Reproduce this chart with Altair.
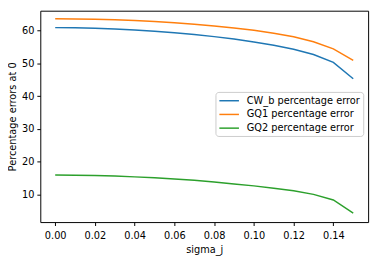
import altair as alt
import pandas as pd

sigma_j = [0.00, 0.01, 0.02, 0.03, 0.04, 0.05, 0.06, 0.07, 0.08, 0.09, 0.10, 0.11, 0.12, 0.13, 0.14, 0.15]
cw_b = [60.9, 60.85, 60.7, 60.5, 60.2, 59.8, 59.35, 58.8, 58.15, 57.4, 56.5, 55.5, 54.3, 52.7, 50.3, 45.3]
gq1 = [63.6, 63.55, 63.45, 63.3, 63.05, 62.75, 62.4, 61.95, 61.4, 60.8, 60.1, 59.2, 58.1, 56.6, 54.4, 50.9]
gq2 = [15.9, 15.85, 15.75, 15.6, 15.35, 15.05, 14.7, 14.3, 13.8, 13.2, 12.6, 11.9, 11.1, 10.0, 8.3, 4.3]

series_names = ["CW_b percentage error", "GQ1 percentage error", "GQ2 percentage error"]
colors = ["#1f77b4", "#ff7f0e", "#2ca02c"]
x_ticks = [0.00, 0.02, 0.04, 0.06, 0.08, 0.10, 0.12, 0.14]
y_ticks = [10, 20, 30, 40, 50, 60]

rows = []
for name, vals in zip(series_names, [cw_b, gq1, gq2]):
    for xv, yv in zip(sigma_j, vals):
        rows.append({"sigma_j": xv, "value": yv, "series": name})
df = pd.DataFrame(rows)

font = "DejaVu Sans"

chart = alt.Chart(df).mark_line(strokeWidth=1.5).encode(
    x=alt.X("sigma_j:Q",
            scale=alt.Scale(domain=[-0.0075, 0.1575], nice=False, zero=False),
            axis=alt.Axis(values=x_ticks, format=".2f", title="sigma_j",
                          grid=False, domain=False, tickSize=3.5, tickColor="black",
                          labelPadding=5, labelColor="black", labelFont=font, labelFontSize=10,
                          titleFont=font, titleFontSize=10, titleFontWeight="normal",
                          titleColor="black", titlePadding=5)),
    y=alt.Y("value:Q",
            scale=alt.Scale(domain=[1.55, 66.06], nice=False, zero=False),
            axis=alt.Axis(values=y_ticks, format="d", title="Percentage errors at 0",
                          grid=False, domain=False, tickSize=3.5, tickColor="black",
                          labelPadding=3, labelColor="black", labelFont=font, labelFontSize=10,
                          titleFont=font, titleFontSize=10, titleFontWeight="normal",
                          titleColor="black", titlePadding=4)),
    color=alt.Color("series:N",
                    scale=alt.Scale(domain=series_names, range=colors),
                    legend=alt.Legend(title=None, orient="none", legendX=179, legendY=83,
                                      symbolType="M-1,0L3,0", symbolSize=100,
                                      symbolStrokeWidth=1.5, labelFont=font, labelFontSize=10,
                                      labelColor="black", labelOffset=17, rowPadding=3,
                                      padding=3, strokeColor="#cccccc", cornerRadius=3,
                                      fillColor="rgba(255,255,255,0.8)")),
).properties(
    width=335, height=216,
    autosize=alt.AutoSizeParams(type="none"),
    padding={"left": 33, "top": 0, "right": 6, "bottom": 37},
).configure_view(stroke="black", strokeWidth=1)

chart.save("out.html", embed_options={"renderer": "svg", "actions": False})
